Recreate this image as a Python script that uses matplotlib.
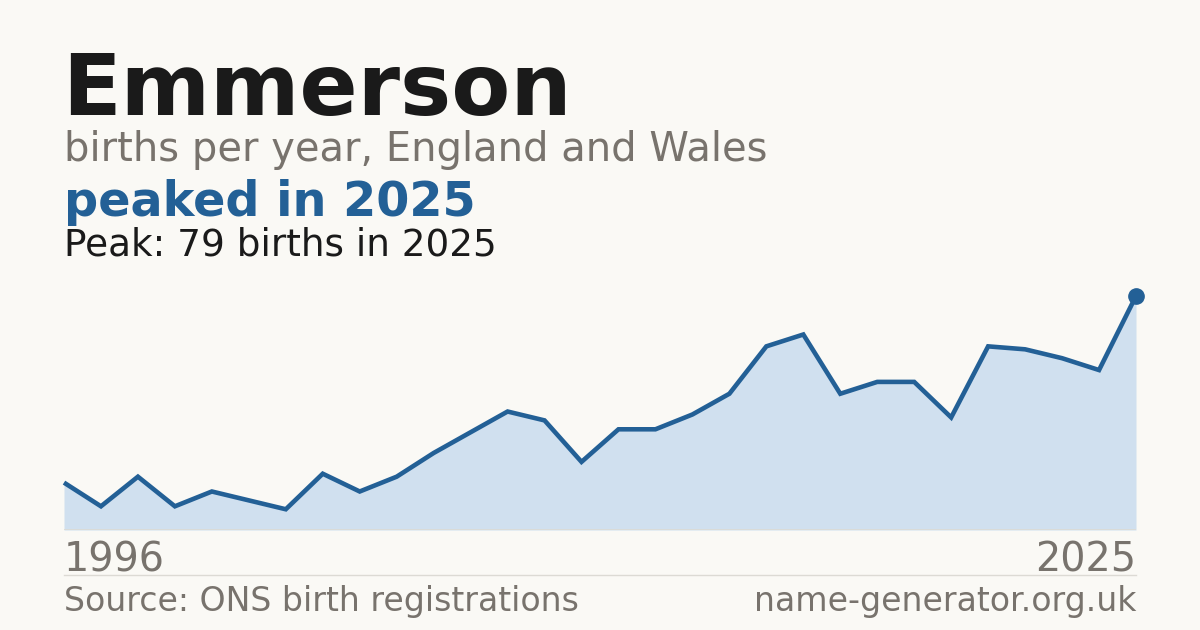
import matplotlib
matplotlib.use("Agg")
import matplotlib.pyplot as plt

years = list(range(1996, 2026))
births = [16, 8, 18, 8, 13, 10, 7, 19, 13, 18, 26, 33, 40, 37, 23, 34, 34, 39, 46, 62,
          66, 46, 50, 50, 38, 62, 61, 58, 54, 79]

title = "Emmerson"
subtitle = "births per year, England and Wales"
headline = "peaked in 2025"
peak_text = "Peak: 79 births in 2025"
source = "Source: ONS birth registrations"
site = "name-generator.org.uk"

BG = "#faf9f5"
BLUE = "#236096"
FILL = "#d0e0ef"
GREY = "#78736d"
DARK = "#1a1a1a"

W, H = 1200, 630
fig = plt.figure(figsize=(W / 100, H / 100), dpi=100, facecolor=BG)

def fx(px):
    return px / W

def fy(py):
    return 1 - py / H

left, right, bottom, top = 64, 1136, 530, 296
ax = fig.add_axes([fx(left), fy(bottom), (right - left) / W, (bottom - top) / H])
ax.set_facecolor("none")
ax.fill_between(years, births, 0, color=FILL, lw=0)
ax.plot(years, births, color=BLUE, lw=3.3, solid_capstyle="butt", solid_joinstyle="miter", clip_on=False)
ax.plot([years[-1]], [births[-1]], "o", color=BLUE, ms=11, clip_on=False, zorder=5)
ax.axhline(0, color="#dcdad4", lw=1.2)
ax.set_xlim(years[0], years[-1])
ax.set_ylim(0, max(births))
ax.axis("off")

fam = "DejaVu Sans"
fig.text(fx(62), fy(115), title, fontsize=61.8, fontweight="bold", color=DARK, family=fam, va="baseline", ha="left")
fig.text(fx(64), fy(161), subtitle, fontsize=28.8, color=GREY, family=fam, va="baseline", ha="left")
fig.text(fx(64), fy(216), headline, fontsize=34.4, fontweight="bold", color=BLUE, family=fam, va="baseline", ha="left")
fig.text(fx(64), fy(255), peak_text, fontsize=26.9, color=DARK, family=fam, va="baseline", ha="left")
fig.text(fx(64), fy(571), str(years[0]), fontsize=28.6, color=GREY, family=fam, va="baseline", ha="left")
fig.text(fx(1136), fy(571), str(years[-1]), fontsize=28.6, color=GREY, family=fam, va="baseline", ha="right")
fig.add_artist(plt.Line2D([fx(64), fx(1136)], [fy(575), fy(575)], color="#dcdad4", lw=1, transform=fig.transFigure))
fig.text(fx(64), fy(611), source, fontsize=23.9, color=GREY, family=fam, va="baseline", ha="left")
fig.text(fx(1136), fy(611), site, fontsize=23.9, color=GREY, family=fam, va="baseline", ha="right")

fig.savefig("out.png", dpi=100, facecolor=BG)
